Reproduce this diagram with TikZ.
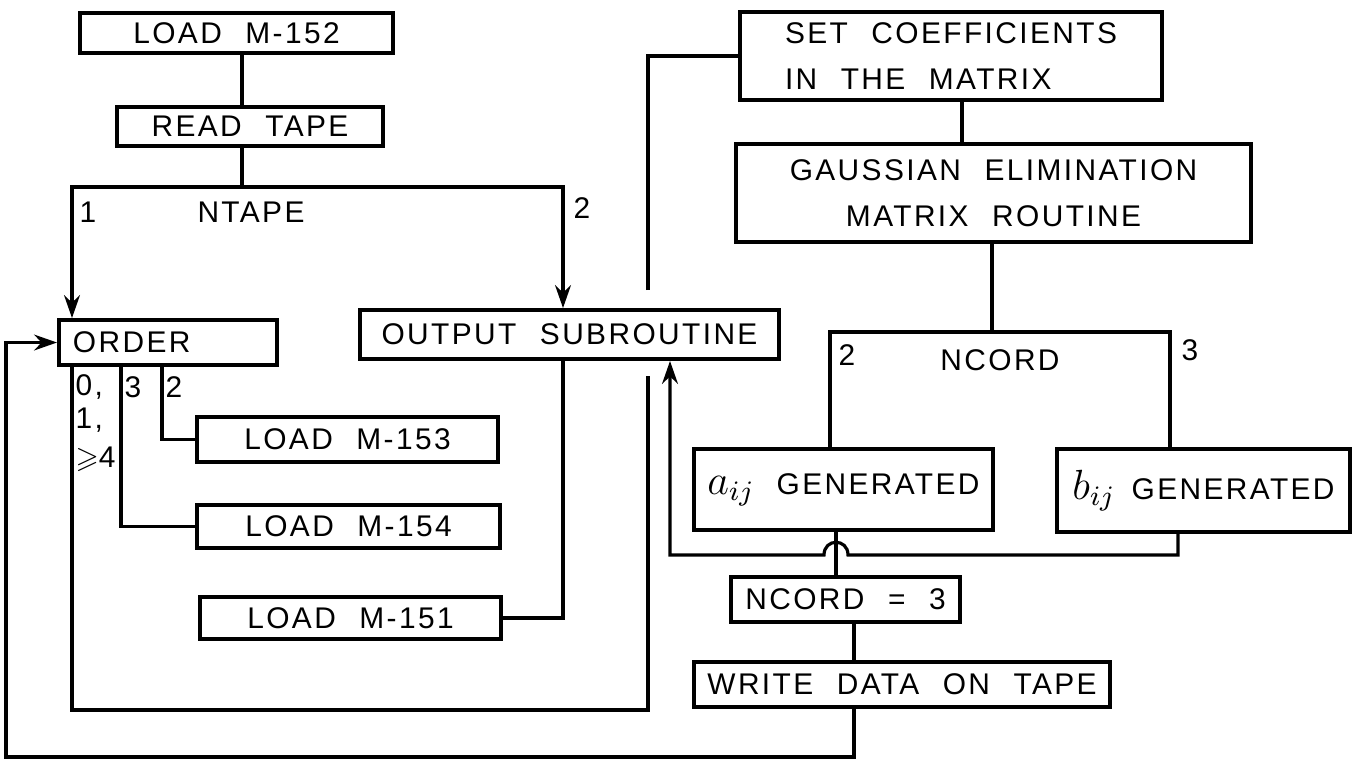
\documentclass[tikz,border=0pt]{standalone}
\usepackage{amssymb}
\usepackage{fontspec}
\setmainfont{Liberation Sans}[LetterSpace=8,WordSpace=2.2]
\usetikzlibrary{arrows.meta,positioning,calc}

\begin{document}
\begin{tikzpicture}[x=0.01cm, y=-0.01cm, >={Stealth[length=6.5pt,width=4.5pt]},
  blk/.style={draw, line width=1.1pt, inner sep=0pt, font=\fontsize{8.5}{10.5}\selectfont},
  wire/.style={line width=0.9pt},
  tag/.style={inner sep=0pt, font=\fontsize{8.5}{10.5}\selectfont}]
  \useasboundingbox (0,0) rectangle (1355,759);

  % left column
  \node[blk, minimum width=3.13cm, minimum height=0.40cm] (load152) at (236.5,33) {LOAD M-152};
  \node[blk, minimum width=2.66cm, minimum height=0.39cm] (readtape) at (250,126.5) {READ TAPE};
  \node[blk, minimum width=2.18cm, minimum height=0.45cm, text width=1.9cm, align=left] (order) at (168,342.5) {ORDER};
  \node[blk, minimum width=4.19cm, minimum height=0.49cm] (output) at (569.5,334.5) {OUTPUT SUBROUTINE};
  \node[blk, minimum width=3.01cm, minimum height=0.45cm] (m153) at (347.5,439.5) {LOAD M-153};
  \node[blk, minimum width=3.03cm, minimum height=0.43cm] (m154) at (348.5,526.5) {LOAD M-154};
  \node[blk, minimum width=3.01cm, minimum height=0.42cm] (m151) at (350.5,618) {LOAD M-151};

  % right column
  \node[blk, minimum width=4.22cm, minimum height=0.88cm, align=left] (setcoef) at (951,56) {SET COEFFICIENTS\\[2.5pt]IN THE MATRIX};
  \node[blk, minimum width=5.15cm, minimum height=0.98cm, align=center] (gauss) at (993.5,193) {GAUSSIAN ELIMINATION\\[2.5pt]MATRIX ROUTINE};
  \node[blk, minimum width=2.99cm, minimum height=0.81cm] (aij) at (843.5,489.5) {\makebox[2.72cm]{{\large$a_{ij}$}\hfill GENERATED}};
  \node[blk, minimum width=2.93cm, minimum height=0.83cm] (bij) at (1203.5,490.5) {\makebox[2.62cm]{{\large$b_{ij}$}\hfill GENERATED}};
  \node[blk, minimum width=2.29cm, minimum height=0.45cm] (ncord3) at (845.5,599.5) {NCORD = 3};
  \node[blk, minimum width=4.16cm, minimum height=0.45cm] (writedata) at (902,684.5) {WRITE DATA ON TAPE};

  % branch labels
  \node[tag] (one) at (88,212) {1};
  \node[tag] (ntape) at (251,212) {NTAPE};
  \node[tag] (two) at (582,208) {2};
  \node[tag, anchor=west] (zero) at (75,387) {0,};
  \node[tag, anchor=west] (onec) at (75,420) {1,};
  \node[tag, anchor=west] (geq) at (75,459) {$\geqslant$4};
  \node[tag, anchor=west] (three) at (124,387) {3};
  \node[tag, anchor=west] (twob) at (165,387) {2};
  \node[tag] (twoc) at (847,355) {2};
  \node[tag] (ncord) at (1000,360) {NCORD};
  \node[tag] (threec) at (1190,350) {3};

  % lanes
  \coordinate (lane) at (242,0);
  \coordinate (laneA) at (72,0);
  \coordinate (laneB) at (563,0);
  \coordinate (laneC) at (121,0);
  \coordinate (laneD) at (162,0);
  \coordinate (laneE) at (830,0);
  \coordinate (laneF) at (1170,0);
  \coordinate (laneG) at (962,0);
  \coordinate (laneH) at (836,0);
  \coordinate (laneI) at (854,0);
  \coordinate (laneJ) at (1178,0);
  \coordinate (split) at (242,187);
  \coordinate (nsplit) at (992,332);
  \coordinate (loopA) at (648,710);
  \coordinate (gapB) at (648,376);
  \coordinate (gapT) at (648,290);
  \coordinate (hopR) at (848,555);
  \coordinate (hopL) at (824,555);
  \coordinate (retB) at (670,555);
  \coordinate (outL) at (6,757);

  \draw[wire] (load152.south -| lane) -- (readtape.north -| lane);
  \draw[wire] (readtape.south -| lane) -- (split);
  \draw[wire,->] (split) -| (order.north -| laneA);
  \draw[wire,->] (split) -| (output.north -| laneB);
  \draw[wire] (order.south -| laneC) |- (m154.west);
  \draw[wire] (order.south -| laneD) |- (m153.west);
  \draw[wire] (output.south -| laneB) |- (m151.east);
  \draw[wire] (order.south -| laneA) |- (loopA) -- (gapB);
  \draw[wire] (gapT) |- (setcoef.west);
  \draw[wire] (setcoef.south -| laneG) -- (gauss.north -| laneG);
  \draw[wire] (gauss.south -| nsplit) -- (nsplit);
  \draw[wire] (nsplit) -| (aij.north -| laneE);
  \draw[wire] (nsplit) -| (bij.north -| laneF);
  \draw[wire] (aij.south -| laneH) -- (ncord3.north -| laneH);
  \draw[wire] (ncord3.south -| laneI) -- (writedata.north -| laneI);
  \draw[wire,->] (bij.south -| laneJ) |- (hopR) .. controls +(0,-17) and +(0,-17) .. (hopL) -- (retB) -- (output.south -| retB);
  \draw[wire,->] (writedata.south -| laneI) |- (outL) |- (order.west);
\end{tikzpicture}
\end{document}
